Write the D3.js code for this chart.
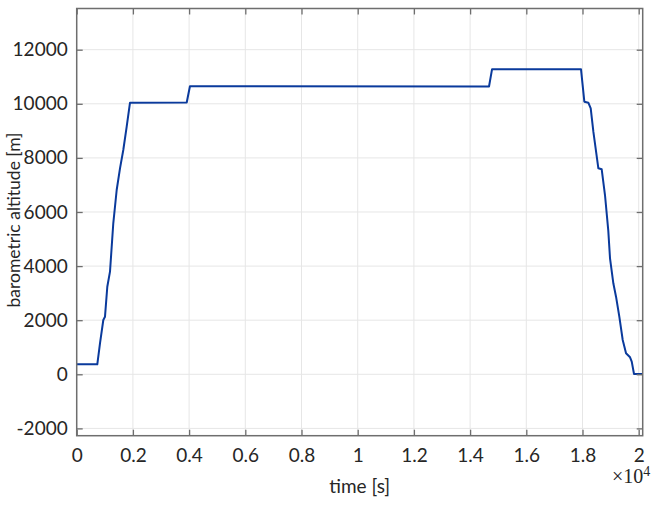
<!DOCTYPE html>
<html>
<head>
<meta charset="utf-8">
<script src="https://cdn.jsdelivr.net/npm/d3@7"></script>
<style>
  body { margin: 0; background: #fff; }
  svg { display: block; }
  .tick text { font-family: Lato, "Open Sans", sans-serif; }
</style>
</head>
<body>
<div id="chart"></div>
<script>
// flight record: time [s] vs barometric altitude [m]
var timeSec = [0, 733, 829, 947, 1007, 1089, 1185, 1302, 1423, 1541, 1658, 1779, 1897,
               3915, 4030, 14673, 14780, 17947, 18065, 18207, 18292, 18386, 18564, 18683,
               18800, 18918, 18979, 19097, 19193, 19310, 19431, 19549, 19692, 19752, 19833, 20140];
var altitude = [370, 370, 1146, 2007, 2130, 3238, 3793, 5582, 6813, 7615, 8292, 9154, 10041,
                10050, 10650, 10640, 11275, 11275, 10078, 10041, 9834, 8969, 7615, 7578,
                6628, 5300, 4288, 3364, 2869, 2130, 1268, 776, 628, 466, 10, 10];

var xTicks = d3.range(0, 20001, 2000);
var yTicks = d3.range(-2000, 12001, 2000);

var W = 664, H = 507;
var margin = { top: 8.5, left: 76.7, right: W - 642.7, bottom: H - 435.7 };
var width = W - margin.left - margin.right;
var height = H - margin.top - margin.bottom;

var svg = d3.select("#chart").append("svg")
    .attr("width", W)
    .attr("height", H);

var g = svg.append("g")
    .attr("transform", "translate(" + margin.left + "," + margin.top + ")");

var x = d3.scaleLinear().domain([0, 20142]).range([0, width]);
var y = d3.scaleLinear().domain([-2270, 13523]).range([height, 0]);

var axisColor = "#6e6e6e", gridColor = "#e6e6e6", textColor = "#262626";

// grid
g.append("g").selectAll("line")
  .data(xTicks).enter().append("line")
    .attr("x1", function(d) { return x(d); })
    .attr("x2", function(d) { return x(d); })
    .attr("y1", 0).attr("y2", height)
    .style("stroke", gridColor);

g.append("g").selectAll("line")
  .data(yTicks).enter().append("line")
    .attr("y1", function(d) { return y(d); })
    .attr("y2", function(d) { return y(d); })
    .attr("x1", 0).attr("x2", width)
    .style("stroke", gridColor);

// data line
var line = d3.line()
    .x(function(d, i) { return x(timeSec[i]); })
    .y(function(d) { return y(d); });

g.append("path")
    .datum(altitude)
    .attr("d", line)
    .style("fill", "none")
    .style("stroke", "#0a3a9c")
    .style("stroke-width", 2)
    .style("stroke-linejoin", "round");

// axes (ticks inward, box on)
function styleAxis(sel) {
  sel.select(".domain").remove();
  sel.selectAll(".tick line").style("stroke", axisColor).style("stroke-width", 1.3);
  sel.selectAll(".tick text").style("fill", textColor).style("font-size", "19px");
}

var xAxis = g.append("g")
    .attr("transform", "translate(0," + height + ")")
    .call(d3.axisBottom(x).tickValues(xTicks).tickSizeInner(-6).tickSizeOuter(0)
      .tickPadding(13)
      .tickFormat(function(d) { return d3.format("~g")(d / 10000); }));
styleAxis(xAxis);

var xTop = g.append("g")
    .call(d3.axisTop(x).tickValues(xTicks).tickSizeInner(-6).tickSizeOuter(0).tickFormat(""));
styleAxis(xTop);

var yAxis = g.append("g")
    .call(d3.axisLeft(y).tickValues(yTicks).tickSizeInner(-6).tickSizeOuter(0)
      .tickPadding(9)
      .tickFormat(function(d) { return d; }));
styleAxis(yAxis);

var yRight = g.append("g")
    .attr("transform", "translate(" + width + ",0)")
    .call(d3.axisRight(y).tickValues(yTicks).tickSizeInner(-6).tickSizeOuter(0).tickFormat(""));
styleAxis(yRight);

g.append("rect")
    .attr("width", width)
    .attr("height", height)
    .style("fill", "none")
    .style("stroke", axisColor)
    .style("stroke-width", 1.5);

// labels
svg.append("text")
    .attr("x", margin.left + width / 2)
    .attr("y", 493)
    .attr("text-anchor", "middle")
    .style("font-family", "Lato, 'Open Sans', sans-serif")
    .style("font-size", "19px")
    .style("fill", textColor)
    .text("time [s]");

svg.append("text")
    .attr("transform", "translate(19.5,220) rotate(-90)")
    .attr("text-anchor", "middle")
    .style("font-family", "Lato, 'Open Sans', sans-serif")
    .style("font-size", "17.5px")
    .style("fill", textColor)
    .text("barometric altitude [m]");

// exponent
var expo = svg.append("text")
    .attr("x", 612)
    .attr("y", 483)
    .style("font-family", "'Liberation Serif', 'DejaVu Serif', serif")
    .style("font-size", "20px")
    .style("fill", textColor);
expo.append("tspan").text("\u00d710");
expo.append("tspan").attr("dy", -7).style("font-size", "14px").text("4");
</script>
</body>
</html>
